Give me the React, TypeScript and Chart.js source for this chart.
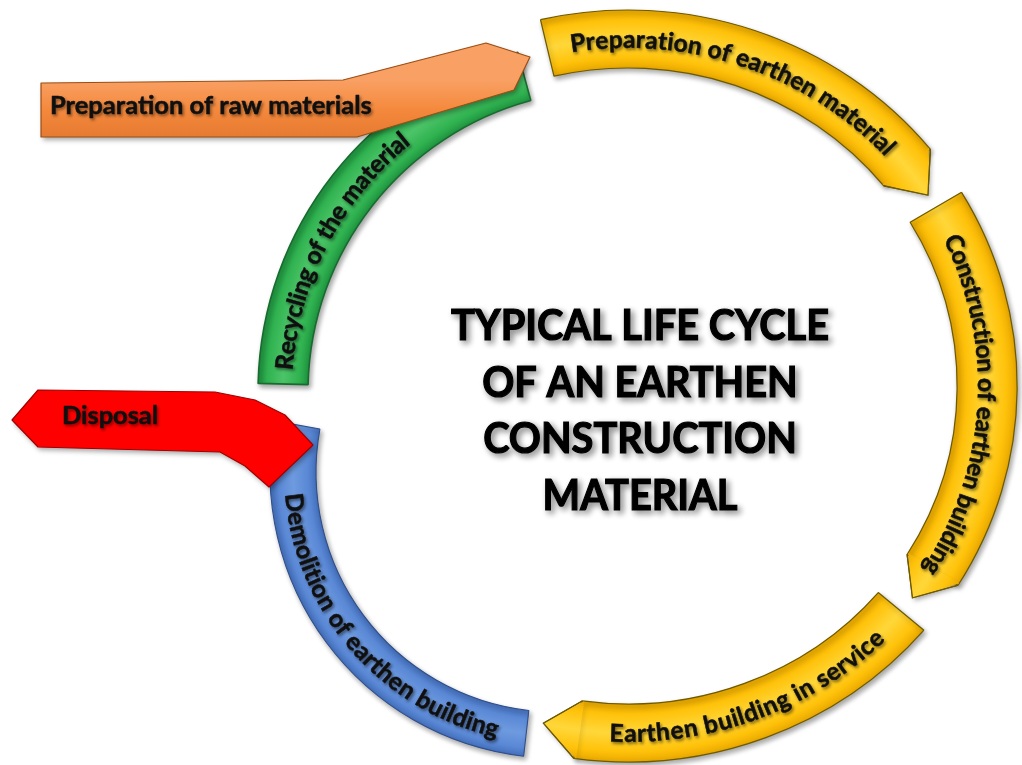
import React, { useEffect, useRef } from "react";
import { Chart, registerables } from "chart.js";
Chart.register(...registerables);

// ---------- data ----------
const ringStageNames = [
  "Preparation of earthen material",
  "Construction of earthen building",
  "Earthen building in service",
];
// angular extent (degrees, clockwise from top) of each stage on the main ring and the gaps between them
const ringSpanDeg = [64, 63, 57.5];
const ringGapDeg = [8, 8.5];
const ringStartDeg = 347;
// the two branch arcs leaving the ring
const branchNames = ["Demolition of earthen building", "Recycling of the material"];
const branchStartDeg = [186.5, 271.4];
const branchSpanDeg = [93.8, 73.4];
const feederNames = ["Preparation of raw materials", "Disposal"];
const titleLines = ["TYPICAL LIFE CYCLE", "OF AN EARTHEN", "CONSTRUCTION", "MATERIAL"];

// ---------- style / layout ----------
const RADIUS = 376;
const WEIGHTS = [58, 51.2, 37.9];
const CUT = (RADIUS - WEIGHTS.reduce((a, b) => a + b, 0)) / RADIUS;
const SX = 1.035;
const HEAD_LEN = 34;
const FONT = "Lato, 'Open Sans', sans-serif";
// per dataset: centre offset from the ring centre, target mid radius, horizontal stretch
const GEOM = [
  { dx: 0, dy: 0, rmid: 0, sx: SX },
  { dx: -72, dy: 86, rmid: 263, sx: 1 },
  { dx: -18, dy: 6, rmid: 327, sx: 1 },
];
const YELLOW = { base: "#FFC20A", light: "#FFD73A", dark: "#E9A800", edge: "#6E5A00" };
const BLUE = { base: "#5A88D5", light: "#6E9ADF", dark: "#4571BE", edge: "#2E4E8C" };
const GREEN = { base: "#30B250", light: "#4CC468", dark: "#1F9440", edge: "#186B2E" };
const DS_STYLE = [YELLOW, BLUE, GREEN];
const RING_TEXT_DIR = [1, 1, -1];
const RING_TEXT_SHIFT = [0, 3, 0];
const BRANCH_TEXT_DIR = [-1, 1];
const BRANCH_TEXT_SHIFT = [-4.4, -10.5];
const TEXT_SIZE = 24.5;

// feeder arrows: outline offsets (px) from the ring centre
const ORANGE_SHAPE = [[-587, -303], [-285, -306], [-142, -343], [-98, -329], [-114, -296], [-271, -249], [-587, -249]];
const RED_SHAPE = [[-616, 34], [-590, 4], [-413, 6], [-373, 14], [-343, 29], [-315, 59], [-359, 101], [-383, 80], [-408, 66], [-590, 61]];

const ringValues: number[] = [];
const ringLabels: string[] = [];
const usedDeg = ringSpanDeg.reduce((a, b) => a + b, 0) + ringGapDeg.reduce((a, b) => a + b, 0);
ringSpanDeg.forEach((v, i) => {
  ringValues.push(v);
  ringLabels.push(ringStageNames[i]);
  ringValues.push(i < ringGapDeg.length ? ringGapDeg[i] : 360 - usedDeg);
  ringLabels.push("");
});

const D2R = Math.PI / 180;

function centerOf(chart: any) {
  const a = chart.chartArea;
  return { x: (a.left + a.right) / 2, y: (a.top + a.bottom) / 2 };
}

function dsGeom(chart: any, index: number) {
  const ctrl: any = chart.getDatasetMeta(index).controller;
  const c = centerOf(chart);
  const g = GEOM[index];
  const rOwn = (ctrl.innerRadius + ctrl.outerRadius) / 2;
  const k = g.rmid ? g.rmid / rOwn : 1;
  return { c, tc: { x: c.x + g.dx, y: c.y + g.dy }, k, sx: g.sx, rOwn };
}

function gradientFor(chart: any, di: number) {
  const st = DS_STYLE[di];
  const a = chart.chartArea;
  const ctrl: any = chart.getDatasetMeta(di).controller;
  if (!a || !ctrl || !ctrl.outerRadius) return st.base;
  const c = centerOf(chart);
  const ri = ctrl.innerRadius, ro = ctrl.outerRadius;
  const g = chart.ctx.createRadialGradient(c.x, c.y, ri, c.x, c.y, ro);
  g.addColorStop(0, st.dark);
  g.addColorStop(0.18, st.base);
  g.addColorStop(0.5, st.light);
  g.addColorStop(0.82, st.base);
  g.addColorStop(1, st.dark);
  return g;
}

function setShadow(ctx: any, on: boolean) {
  if (on) {
    ctx.shadowColor = "rgba(0,0,0,0.35)";
    ctx.shadowBlur = 5;
    ctx.shadowOffsetX = 2;
    ctx.shadowOffsetY = 3;
  } else {
    ctx.shadowColor = "rgba(0,0,0,0)";
    ctx.shadowBlur = 0;
    ctx.shadowOffsetX = 0;
    ctx.shadowOffsetY = 0;
  }
}

function drawHeads(chart: any, withShadow: boolean) {
  const ctx = chart.ctx;
  const meta = chart.getDatasetMeta(0);
  ringStageNames.forEach((_, s) => {
    const el: any = meta.data[s * 2];
    const { x, y, endAngle, innerRadius: ri, outerRadius: ro } = el;
    const rm = (ri + ro) / 2;
    const tipA = endAngle + HEAD_LEN / rm;
    const e0 = endAngle - 0.006;
    ctx.save();
    setShadow(ctx, withShadow);
    ctx.beginPath();
    ctx.moveTo(x + ro * Math.cos(e0), y + ro * Math.sin(e0));
    ctx.lineTo(x + rm * Math.cos(tipA), y + rm * Math.sin(tipA));
    ctx.lineTo(x + ri * Math.cos(e0), y + ri * Math.sin(e0));
    ctx.closePath();
    ctx.fillStyle = gradientFor(chart, 0);
    ctx.fill();
    setShadow(ctx, false);
    ctx.beginPath();
    ctx.moveTo(x + ro * Math.cos(endAngle), y + ro * Math.sin(endAngle));
    ctx.lineTo(x + rm * Math.cos(tipA), y + rm * Math.sin(tipA));
    ctx.lineTo(x + ri * Math.cos(endAngle), y + ri * Math.sin(endAngle));
    ctx.strokeStyle = YELLOW.edge;
    ctx.lineWidth = 1.2;
    ctx.stroke();
    ctx.restore();
  });
}

function arcText(ctx: any, text: string, cx: number, cy: number, rm: number, mid: number, dir: number, size: number, sx: number) {
  ctx.save();
  ctx.font = `bold ${size}px ${FONT}`;
  ctx.fillStyle = "#111";
  ctx.strokeStyle = "#111";
  ctx.lineWidth = 0.5;
  ctx.textAlign = "center";
  ctx.textBaseline = "alphabetic";
  ctx.shadowColor = "rgba(0,0,0,0.45)";
  ctx.shadowBlur = 3;
  ctx.shadowOffsetX = 1.5;
  ctx.shadowOffsetY = 2;
  const capH = size * 0.36;
  const rb = dir > 0 ? rm - capH : rm + capH;
  const chars = Array.from(text);
  const widths = chars.map((ch) => ctx.measureText(ch).width);
  const total = widths.reduce((a, b) => a + b, 0);
  let acc = 0;
  chars.forEach((ch, i) => {
    const w = widths[i];
    const a = mid + (dir * (acc + w / 2 - total / 2)) / rm;
    ctx.save();
    ctx.translate(cx + sx * rb * Math.cos(a), cy + rb * Math.sin(a));
    ctx.rotate(dir > 0 ? a + Math.PI / 2 : a - Math.PI / 2);
    ctx.fillText(ch, 0, 0);
    ctx.strokeText(ch, 0, 0);
    ctx.restore();
    acc += w;
  });
  ctx.restore();
}

function drawFeeder(ctx: any, c: any, shape: number[][], fill: any, edge: string, text: string, tx: number, ty: number, width: number) {
  ctx.save();
  ctx.beginPath();
  shape.forEach(([dx, dy], i) => {
    if (i === 0) ctx.moveTo(c.x + dx, c.y + dy);
    else ctx.lineTo(c.x + dx, c.y + dy);
  });
  ctx.closePath();
  setShadow(ctx, true);
  ctx.lineJoin = "round";
  ctx.fillStyle = fill;
  ctx.fill();
  setShadow(ctx, false);
  ctx.strokeStyle = edge;
  ctx.lineWidth = 1.2;
  ctx.stroke();
  ctx.font = `bold 22px ${FONT}`;
  const size = (22 * width) / ctx.measureText(text).width;
  ctx.font = `bold ${size}px ${FONT}`;
  ctx.fillStyle = "#111";
  ctx.strokeStyle = "#111";
  ctx.lineWidth = 0.5;
  ctx.textAlign = "left";
  ctx.textBaseline = "alphabetic";
  ctx.shadowColor = "rgba(0,0,0,0.4)";
  ctx.shadowBlur = 3;
  ctx.shadowOffsetX = 1.5;
  ctx.shadowOffsetY = 2;
  ctx.fillText(text, c.x + tx, c.y + ty);
  ctx.strokeText(text, c.x + tx, c.y + ty);
  ctx.restore();
}

const diagramPlugin = {
  id: "diagram",
  beforeDatasetDraw(chart: any, args: any) {
    const ctx = chart.ctx;
    const g = dsGeom(chart, args.index);
    ctx.save();
    ctx.translate(g.tc.x, g.tc.y);
    ctx.scale(g.k * g.sx, g.k);
    ctx.translate(-g.c.x, -g.c.y);
    if (args.index === 0) drawHeads(chart, true);
    setShadow(ctx, true);
  },
  afterDatasetDraw(chart: any, args: any) {
    const ctx = chart.ctx;
    setShadow(ctx, false);
    if (args.index === 0) drawHeads(chart, false);
    ctx.restore();
    const g = dsGeom(chart, args.index);
    const meta = chart.getDatasetMeta(args.index);
    if (args.index === 0) {
      ringStageNames.forEach((name, s) => {
        const el: any = meta.data[s * 2];
        const mid = (el.startAngle + el.endAngle) / 2 + RING_TEXT_SHIFT[s] * D2R;
        arcText(ctx, name, g.tc.x, g.tc.y, g.rOwn * g.k, mid, RING_TEXT_DIR[s], TEXT_SIZE, g.sx);
      });
    } else {
      const b = args.index - 1;
      const el: any = meta.data[0];
      const mid = (el.startAngle + el.endAngle) / 2 + BRANCH_TEXT_SHIFT[b] * D2R;
      arcText(ctx, branchNames[b], g.tc.x, g.tc.y, g.rOwn * g.k, mid, BRANCH_TEXT_DIR[b], TEXT_SIZE, g.sx);
    }
  },
  afterDatasetsDraw(chart: any) {
    const ctx = chart.ctx;
    const c = centerOf(chart);
    const og = ctx.createLinearGradient(0, c.y - 306, 0, c.y - 249);
    og.addColorStop(0, "#F9A064");
    og.addColorStop(0.5, "#F58A3E");
    og.addColorStop(1, "#E57A30");
    drawFeeder(ctx, c, ORANGE_SHAPE, og, "#9A4E14", feederNames[0], -578, -272, 322);
    drawFeeder(ctx, c, RED_SHAPE, "#FF0000", "#A00000", feederNames[1], -566, 38, 96);

    ctx.save();
    ctx.font = `bold 42px ${FONT}`;
    const hs = 378 / ctx.measureText(titleLines[0]).width;
    ctx.fillStyle = "#000";
    ctx.strokeStyle = "#000";
    ctx.lineWidth = 1.2;
    ctx.textAlign = "center";
    ctx.textBaseline = "alphabetic";
    ctx.shadowColor = "rgba(0,0,0,0.45)";
    ctx.shadowBlur = 6;
    ctx.shadowOffsetX = 3;
    ctx.shadowOffsetY = 3;
    titleLines.forEach((line, i) => {
      ctx.save();
      ctx.translate(c.x + 12, c.y - 46 + i * 56.5);
      ctx.scale(hs, 1);
      ctx.fillText(line, 0, 0);
      ctx.strokeText(line, 0, 0);
      ctx.restore();
    });
    ctx.restore();
  },
};

export default function App() {
  const ref = useRef<HTMLCanvasElement | null>(null);
  useEffect(() => {
    if (!ref.current) return;
    const common = {
      clip: false,
      hoverOffset: 0,
    };
    const chart = new Chart(ref.current, {
      type: "doughnut",
      data: {
        labels: ringLabels,
        datasets: [
          {
            ...common,
            label: "ring",
            data: ringValues,
            weight: WEIGHTS[0],
            rotation: ringStartDeg,
            backgroundColor: (c: any) => (c.dataIndex % 2 ? "rgba(0,0,0,0)" : gradientFor(c.chart, 0)),
            borderColor: (c: any) => (c.dataIndex % 2 ? "rgba(0,0,0,0)" : YELLOW.edge),
            borderWidth: (c: any) => (c.dataIndex % 2 ? 0 : 1.2),
          } as any,
          ...branchNames.map((name, b) => ({
            ...common,
            label: name,
            data: [branchSpanDeg[b], 360 - branchSpanDeg[b]],
            weight: WEIGHTS[b + 1],
            rotation: branchStartDeg[b],
            backgroundColor: (c: any) => (c.dataIndex ? "rgba(0,0,0,0)" : gradientFor(c.chart, b + 1)),
            borderColor: (c: any) => (c.dataIndex ? "rgba(0,0,0,0)" : DS_STYLE[b + 1].edge),
            borderWidth: (c: any) => (c.dataIndex ? 0 : 1.2),
          })) as any,
        ],
      },
      options: {
        responsive: false,
        animation: false,
        events: [],
        radius: RADIUS,
        cutout: `${CUT * 100}%`,
        layout: { padding: { left: 234, top: 7, right: 0, bottom: 0 } },
        plugins: { legend: { display: false }, tooltip: { enabled: false } },
      } as any,
      plugins: [diagramPlugin],
    });
    const fonts: any = (document as any).fonts;
    if (fonts && fonts.load) {
      fonts.load(`bold 20px Lato`).then(() => chart.draw()).catch(() => {});
    }
    return () => chart.destroy();
  }, []);
  return (
    <div style={{ position: "fixed", left: 0, top: 0, width: 1022, height: 765, background: "#fff" }}>
      <canvas ref={ref} width={1022} height={765} style={{ display: "block" }} />
    </div>
  );
}
